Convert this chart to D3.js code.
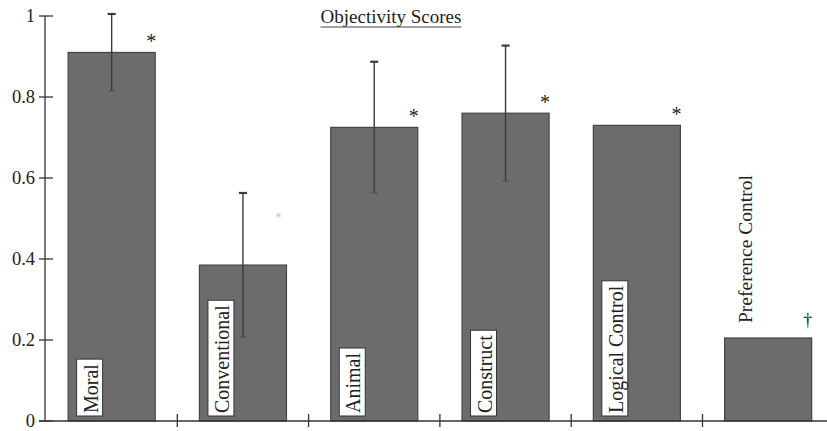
<!DOCTYPE html>
<html>
<head>
<meta charset="utf-8">
<script src="https://cdn.jsdelivr.net/npm/d3@7/dist/d3.min.js"></script>
<style>
  html, body { margin: 0; padding: 0; background: #fff; }
  svg { display: block; }
  text { font-family: "Liberation Serif", "Times New Roman", serif; fill: #222; }
</style>
</head>
<body>
<svg id="chart" width="827" height="431"></svg>
<script>
// Objectivity scores per domain
const categories = ["Moral", "Conventional", "Animal", "Construct", "Logical Control", "Preference Control"];
const means = [0.91, 0.385, 0.725, 0.76, 0.73, 0.205];
const errors = [0.095, 0.178, 0.162, 0.167, null, null];
const markers = ["*", "*", "*", "*", "*", "\u2020"];
const yTicks = [0, 0.2, 0.4, 0.6, 0.8, 1];
const yTickLabels = ["0", "0.2", "0.4", "0.6", "0.8", "1"];
const title = "Objectivity Scores";

const data = categories.map((c, i) => ({ name: c, mean: means[i], err: errors[i], mark: markers[i], i }));

const svg = d3.select("#chart");
const plotLeft = 46, plotBottom = 421, plotTop = 16;

const y = d3.scaleLinear().domain([0, 1]).range([plotBottom, plotTop]);
const x = d3.scaleBand().domain(categories)
  .range([plotLeft, plotLeft + 6 * 131.3])
  .paddingInner(0.337).paddingOuter(0.1685);

const ink = "#333";

// bars
svg.append("g").selectAll("rect").data(data).join("rect")
  .attr("x", d => x(d.name))
  .attr("y", d => y(d.mean))
  .attr("width", x.bandwidth())
  .attr("height", d => y(0) - y(d.mean))
  .attr("fill", "#6c6c6c")
  .attr("stroke", "#454545")
  .attr("stroke-width", 1.2);

// error bars
const eb = svg.append("g").attr("stroke", "#3a3a3a").attr("stroke-width", 1.4);
data.filter(d => d.err != null).forEach(d => {
  const cx = x(d.name) + x.bandwidth() / 2;
  eb.append("line").attr("x1", cx).attr("x2", cx)
    .attr("y1", y(d.mean + d.err)).attr("y2", y(d.mean - d.err));
  eb.append("line").attr("x1", cx - 4).attr("x2", cx + 4)
    .attr("y1", y(d.mean + d.err)).attr("y2", y(d.mean + d.err)).attr("stroke-width", 2.2);
  eb.append("line").attr("x1", cx - 3.5).attr("x2", cx + 3.5)
    .attr("y1", y(d.mean - d.err)).attr("y2", y(d.mean - d.err)).attr("stroke", "#555");
});

// significance markers (the Conventional one is only a faint trace, printed higher)
svg.append("g").selectAll("text").data(data).join("text")
  .attr("x", d => x(d.name) + x.bandwidth() - (d.name === "Conventional" ? 8 : 4))
  .attr("y", d => y(d.mean) - (d.mark === "\u2020" ? 12 : d.name === "Conventional" ? 44 : 4))
  .attr("text-anchor", "middle")
  .attr("font-size", d => d.name === "Conventional" ? 12 : d.mark === "*" ? 20 : 18)
  .attr("opacity", d => d.name === "Conventional" ? 0.3 : 1)
  .text(d => d.mark);

// category labels: boxed inside bars, except the last one above its bar
const lab = svg.append("g");
data.forEach(d => {
  const bx = x(d.name) + 8.5;
  if (d.name === "Preference Control") {
    lab.append("text")
      .attr("transform", `translate(${bx + 19},${y(d.mean) - 15}) rotate(-90)`)
      .attr("font-size", 19.5)
      .text(d.name);
    return;
  }
  const t = lab.append("text")
    .attr("transform", `translate(${bx + 21},${plotBottom - 8}) rotate(-90)`)
    .attr("font-size", 20)
    .text(d.name);
  const len = t.node().getComputedTextLength();
  lab.insert("rect", "text")
    .attr("x", bx).attr("y", plotBottom - 5 - len - 8)
    .attr("width", 26).attr("height", len + 8)
    .attr("fill", "#fff").attr("stroke", "#333").attr("stroke-width", 1);
});
// keep the boxes behind their texts
lab.selectAll("rect").lower();

// y axis
const yAxis = svg.append("g");
yAxis.append("line").attr("x1", plotLeft - 1).attr("x2", plotLeft - 1)
  .attr("y1", y(1)).attr("y2", y(0)).attr("stroke", ink).attr("stroke-width", 1.3);
yAxis.selectAll("line.tick").data(yTicks).join("line").attr("class", "tick")
  .attr("x1", plotLeft - 7).attr("x2", plotLeft + 7)
  .attr("y1", d => y(d)).attr("y2", d => y(d))
  .attr("stroke", ink).attr("stroke-width", 1.3);
yAxis.selectAll("text").data(yTicks).join("text")
  .attr("x", plotLeft - 11).attr("y", d => y(d) + 6)
  .attr("text-anchor", "end").attr("font-size", 18.5)
  .text((d, i) => yTickLabels[i]);

// x axis with ticks between categories
const xAxis = svg.append("g");
xAxis.append("line").attr("x1", plotLeft - 7).attr("x2", 827)
  .attr("y1", plotBottom).attr("y2", plotBottom).attr("stroke", ink).attr("stroke-width", 1.3);
const boundaries = categories.slice(1).map(c => x(c) - x.step() * x.paddingInner() / 2);
xAxis.selectAll("line.tick").data(boundaries).join("line").attr("class", "tick")
  .attr("x1", d => d).attr("x2", d => d)
  .attr("y1", plotBottom - 7).attr("y2", plotBottom + 6)
  .attr("stroke", ink).attr("stroke-width", 1.3);

// title
const tt = svg.append("text")
  .attr("x", 391).attr("y", 23)
  .attr("text-anchor", "middle").attr("font-size", 19)
  .text(title);
const tw = tt.node().getComputedTextLength();
svg.append("line").attr("x1", 391 - tw / 2).attr("x2", 391 + tw / 2)
  .attr("y1", 27).attr("y2", 27).attr("stroke", "#444").attr("stroke-width", 1);
</script>
</body>
</html>
